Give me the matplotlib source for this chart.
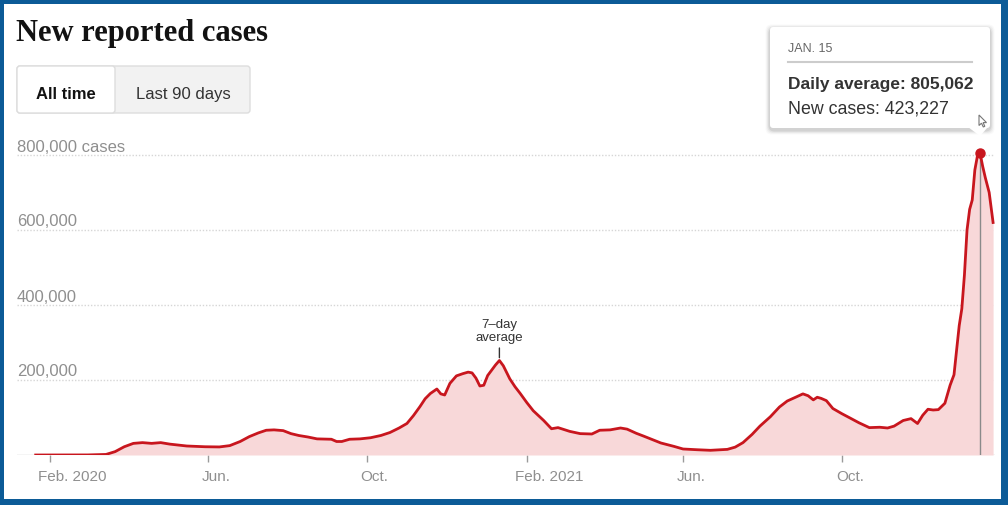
import matplotlib
matplotlib.use("Agg")
import matplotlib.pyplot as plt
import matplotlib.transforms as mtransforms
from matplotlib.patches import Rectangle, FancyBboxPatch, Polygon
import pandas as pd

# ---------------- data ----------------
dates = [
    "2020-01-21", "2020-03-01", "2020-03-15", "2020-03-22", "2020-03-29", "2020-04-05",
    "2020-04-12", "2020-04-19", "2020-04-26", "2020-05-03", "2020-05-16", "2020-05-30",
    "2020-06-10", "2020-06-18", "2020-06-26", "2020-07-03", "2020-07-10", "2020-07-16",
    "2020-07-22", "2020-07-29", "2020-08-04", "2020-08-10", "2020-08-17", "2020-08-24",
    "2020-09-04", "2020-09-08", "2020-09-12", "2020-09-18", "2020-09-26", "2020-10-04",
    "2020-10-12", "2020-10-19", "2020-10-26", "2020-11-01", "2020-11-06", "2020-11-11",
    "2020-11-15", "2020-11-19", "2020-11-24", "2020-11-27", "2020-11-30", "2020-12-04",
    "2020-12-09", "2020-12-14", "2020-12-18", "2020-12-21", "2020-12-24", "2020-12-27",
    "2020-12-30", "2021-01-02", "2021-01-05", "2021-01-08", "2021-01-11", "2021-01-14",
    "2021-01-19", "2021-01-23", "2021-01-27", "2021-02-01", "2021-02-06", "2021-02-14",
    "2021-02-20", "2021-02-25", "2021-03-06", "2021-03-14", "2021-03-23", "2021-03-29",
    "2021-04-06", "2021-04-14", "2021-04-19", "2021-04-26", "2021-05-02", "2021-05-15",
    "2021-05-25", "2021-06-01", "2021-06-12", "2021-06-22", "2021-07-05", "2021-07-11",
    "2021-07-17", "2021-07-24", "2021-07-30", "2021-08-07", "2021-08-14", "2021-08-20",
    "2021-08-27", "2021-09-01", "2021-09-05", "2021-09-09", "2021-09-12", "2021-09-15",
    "2021-09-19", "2021-09-24", "2021-10-01", "2021-10-07", "2021-10-14", "2021-10-22",
    "2021-10-30", "2021-11-05", "2021-11-10", "2021-11-17", "2021-11-23", "2021-11-28",
    "2021-12-02", "2021-12-06", "2021-12-10", "2021-12-14", "2021-12-19", "2021-12-23",
    "2021-12-26", "2021-12-28", "2021-12-30", "2022-01-01", "2022-01-03", "2022-01-05",
    "2022-01-07", "2022-01-09", "2022-01-11", "2022-01-13", "2022-01-15", "2022-01-17",
    "2022-01-19", "2022-01-22", "2022-01-25",
]
daily_avg = [
    0, 200, 1500, 9000, 22000, 31000,
    33000, 31000, 33000, 29000, 24000, 22000,
    21500, 25000, 36000, 49000, 59000, 66000,
    67000, 65000, 57000, 52000, 48000, 43000,
    42000, 36000, 36000, 42000, 43000, 46000,
    52000, 60000, 72000, 84000, 105000, 129000,
    150000, 164000, 176000, 163000, 160000, 191000,
    211000, 217000, 221000, 219000, 205000, 184000,
    186000, 212000, 226000, 240000, 252000, 238000,
    203000, 182000, 164000, 140000, 118000, 92000,
    70000, 73000, 63000, 57000, 56000, 66000,
    67000, 72000, 69000, 58000, 50000, 32000,
    23000, 16000, 14000, 12500, 15000, 21000,
    33000, 55000, 77000, 102000, 128000, 144000,
    155000, 163000, 158000, 147000, 154000, 151000,
    145000, 124000, 110000, 99000, 86000, 73000,
    74000, 72000, 77000, 92000, 97000, 84000,
    106000, 122000, 120000, 121000, 138000, 186000,
    214000, 280000, 345000, 390000, 480000, 600000,
    655000, 680000, 760000, 798000, 805062, 770000,
    740000, 700000, 620000,
]
tick_dates = ["2020-02-01", "2020-06-01", "2020-10-01", "2021-02-01", "2021-06-01", "2021-10-01"]
tick_labels = ["Feb. 2020", "Jun.", "Oct.", "Feb. 2021", "Jun.", "Oct."]
y_ticks = [200000, 400000, 600000, 800000]
y_labels = ["200,000", "400,000", "600,000", "800,000 cases"]
peak_date = "2022-01-15"
peak_value = 805062
peak_new_cases = 423227
annot_date = "2021-01-11"
annot_value = 252000

# ---------------- style ----------------
W, H = 1008, 505
RED = "#c8161e"
FILL = "#f8d8d9"
GRAY_TXT = "#8f8f8f"
SANS = ["Liberation Sans", "DejaVu Sans"]
plt.rcParams["font.family"] = SANS

x = pd.to_datetime(dates)
tx = pd.to_datetime(tick_dates)

fig = plt.figure(figsize=(W / 100, H / 100), dpi=100)
fig.patch.set_facecolor("white")

ax_left, ax_right, ax_top, ax_bot = 17, 995, 140, 455
ax = fig.add_axes([ax_left / W, (H - ax_bot) / H, (ax_right - ax_left) / W, (ax_bot - ax_top) / H])
ax.patch.set_alpha(0)

# x-range: Feb 1 2020 sits 33 px from the left edge at 1.3026 px/day
ref = pd.Timestamp("2020-02-01")
ppd = 1.3026
ax.set_xlim(ref - pd.Timedelta(days=(50 - ax_left) / ppd), ref + pd.Timedelta(days=(ax_right - 50) / ppd))
ax.set_ylim(0, 840000)

for v in y_ticks:
    ax.axhline(v, color="#d6d6d6", lw=1.0, ls=(0, (1, 1.3)), zorder=1)
ax.axhline(0, color="#cfcfcf", lw=1.0, zorder=1)

ax.fill_between(x, daily_avg, 0, color=FILL, lw=0, zorder=2)
pk = pd.Timestamp(peak_date)
ax.vlines(pk, 0, peak_value, color="#8a8a8a", lw=1.0, zorder=3)
ax.plot(x, daily_avg, color=RED, lw=2.0, solid_joinstyle="round", zorder=4)
ax.plot([pk], [peak_value], "o", color=RED, ms=6.5, zorder=5)

for s in ax.spines.values():
    s.set_visible(False)
ax.set_yticks([])
ax.set_xticks(tx)
ax.set_xticklabels(tick_labels)
ax.tick_params(axis="x", length=5, width=1, color="#9a9a9a", pad=5.5,
               labelsize=11, labelcolor=GRAY_TXT)
offs = [-12, -6, -6, -12, -6, -6]
for lab, o in zip(ax.get_xticklabels(), offs):
    lab.set_horizontalalignment("left")
    lab.set_transform(lab.get_transform() + mtransforms.ScaledTranslation(o / 100, 0, fig.dpi_scale_trans))

ylab_tr = mtransforms.blended_transform_factory(ax.transAxes, ax.transData) + \
    mtransforms.ScaledTranslation(0, 3.5 / 100, fig.dpi_scale_trans)
for v, lab in zip(y_ticks, y_labels):
    ax.text(0, v, lab, transform=ylab_tr, ha="left", va="baseline", fontsize=12, color=GRAY_TXT, zorder=6)

ax.annotate("7\u2013day\naverage", xy=(pd.Timestamp(annot_date), annot_value), xytext=(0, 12),
            textcoords="offset points", ha="center", va="bottom", fontsize=9.5, color="#333333",
            linespacing=1.05,
            arrowprops=dict(arrowstyle="-", color="#333333", lw=1, shrinkA=1, shrinkB=2))

# ---------------- overlay (pixel coordinates) ----------------
ov = fig.add_axes([0, 0, 1, 1], zorder=10)
ov.set_xlim(0, W)
ov.set_ylim(H, 0)
ov.axis("off")
ov.patch.set_alpha(0)

# Title
ov.text(16, 41, "New reported cases", ha="left", va="baseline", fontsize=22,
        fontweight="bold", family=["Liberation Serif", "DejaVu Serif"], color="#121212")

# Toggle buttons
ov.add_patch(FancyBboxPatch((17, 66), 233, 47, boxstyle="round,pad=0,rounding_size=3",
                            fc="#f2f2f2", ec="#dddddd", lw=1))
ov.add_patch(FancyBboxPatch((17, 66), 98, 47, boxstyle="round,pad=0,rounding_size=3",
                            fc="white", ec="#dddddd", lw=1))
ov.text(66, 99, "All time", ha="center", va="baseline", fontsize=12, fontweight="bold", color="#121212")
ov.text(183, 99, "Last 90 days", ha="center", va="baseline", fontsize=12, color="#333333")

# Tooltip with soft shadow
bx, by, bw, bh = 770, 27, 220, 101
for i, a in enumerate([0.025, 0.035, 0.05, 0.07]):
    g = 5 - i
    ov.add_patch(FancyBboxPatch((bx - g + 0.5, by - g + 2.5), bw + 2 * g - 1, bh + 2 * g - 1,
                                boxstyle="round,pad=0,rounding_size=6", fc="black", ec="none", alpha=a))
ov.add_patch(FancyBboxPatch((bx, by), bw, bh, boxstyle="round,pad=0,rounding_size=3",
                            fc="white", ec="none"))
ov.add_patch(Polygon([[968, 127], [988, 127], [980, 136]], closed=True, fc="white", ec="none"))
ov.text(788, 51.5, "JAN. 15", ha="left", va="baseline", fontsize=9, color="#666666")
ov.plot([788, 972], [61.5, 61.5], color="#cccccc", lw=1.5)
ov.text(788, 89.5, f"Daily average: {peak_value:,}", ha="left", va="baseline", fontsize=12.5,
        fontweight="bold", color="#333333")
ov.text(788, 113, f"New cases: {peak_new_cases:,}", ha="left", va="baseline", fontsize=12.8,
        color="#333333")

# Mouse cursor
cx, cy = 979, 115
cur = [[0, 0], [0, 10.5], [2.5, 8.2], [4.3, 12], [5.8, 11.3], [4.1, 7.6], [7.5, 7.6]]
ov.add_patch(Polygon([[cx + a, cy + b] for a, b in cur], closed=True, fc="white", ec="#777777", lw=0.8))

# Blue frame
BLUE = "#0c5b97"
ov.add_patch(Rectangle((0, 0), W, 4, fc=BLUE, ec="none"))
ov.add_patch(Rectangle((0, 0), 4, H, fc=BLUE, ec="none"))
ov.add_patch(Rectangle((0, 499), W, 6, fc=BLUE, ec="none"))
ov.add_patch(Rectangle((1001, 0), 7, H, fc=BLUE, ec="none"))

fig.savefig("out.png", dpi=100)
